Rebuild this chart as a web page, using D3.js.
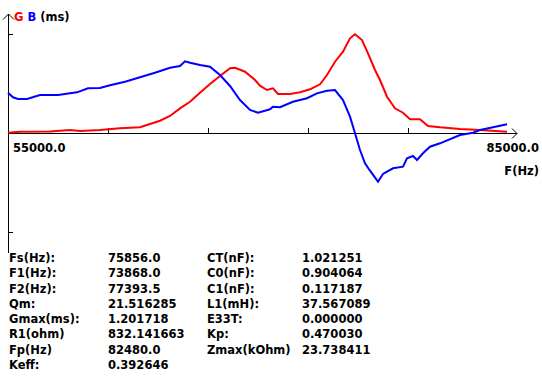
<!DOCTYPE html>
<html>
<head>
<meta charset="utf-8">
<script src="https://cdn.jsdelivr.net/npm/d3@7"></script>
<style>
  body { margin: 0; background: #fff; }
  svg { display: block; }
  text { font-family: "DejaVu Sans", sans-serif; font-weight: bold; font-size: 11.5px; }
</style>
</head>
<body>
<svg id="chart"></svg>
<script>
(function() {

// G (conductance) curve, ms
const gFreq = [55000, 55720, 57520, 58720, 59320, 60520, 61720, 62920, 63520, 64120,
    64720, 65320, 65920, 66520, 67120, 67720, 68320, 68620, 69220, 69820,
    70120, 70540, 70900, 71200, 71920, 72520, 73120, 73720, 74140, 74620,
    75100, 75520, 75820, 76240, 76600, 77020, 77320, 77740, 78220, 78700,
    79120, 79720, 80200, 80920, 82120, 83320, 84940];
const gVals = [0.004, 0.016, 0.018, 0.036, 0.024, 0.036, 0.057, 0.069, 0.109, 0.149,
    0.206, 0.299, 0.379, 0.488, 0.594, 0.691, 0.784, 0.791, 0.743, 0.642,
    0.573, 0.521, 0.542, 0.473, 0.473, 0.493, 0.530, 0.590, 0.703, 0.864,
    0.985, 1.148, 1.196, 1.127, 0.966, 0.764, 0.642, 0.440, 0.299, 0.246,
    0.166, 0.166, 0.085, 0.069, 0.048, 0.036, 0.016];

// B (susceptance) curve, ms
const bFreq = [55000, 55300, 55600, 56140, 56920, 58000, 59140, 59800, 60520, 61120,
    62020, 62920, 63820, 64720, 65320, 65620, 65920, 66520, 67120, 67720,
    68320, 68920, 69520, 70000, 70720, 70900, 71320, 72100, 72940, 73540,
    74140, 74620, 75100, 75520, 75820, 76120, 76420, 76720, 77200, 77500,
    78100, 78700, 78940, 79300, 79540, 79900, 80320, 80920, 82120, 82900,
    83320, 84100, 84940];
const bVals = [0.488, 0.433, 0.412, 0.412, 0.461, 0.461, 0.493, 0.542, 0.545, 0.578,
    0.622, 0.675, 0.731, 0.791, 0.812, 0.869, 0.852, 0.824, 0.804, 0.703,
    0.570, 0.400, 0.279, 0.246, 0.287, 0.319, 0.312, 0.379, 0.421, 0.481,
    0.513, 0.521, 0.400, 0.198, -0.004, -0.206, -0.367, -0.457, -0.590, -0.497,
    -0.428, -0.408, -0.307, -0.279, -0.327, -0.246, -0.166, -0.125, -0.024, 0.004,
    0.036, 0.069, 0.105];

const freqDomain = [55000, 85000];
const xTicks = [61000, 67000, 73000, 79000];
const yTicks = [-1.2, 1.2];
const xLabels = ["55000.0", "85000.0"];

// parameter table
const paramNames1 = ["Fs(Hz):", "F1(Hz):", "F2(Hz):", "Qm:", "Gmax(ms):", "R1(ohm)", "Fp(Hz)", "Keff:"];
const paramVals1 = ["75856.0", "73868.0", "77393.5", "21.516285", "1.201718", "832.141663", "82480.0", "0.392646"];
const paramNames2 = ["CT(nF):", "C0(nF):", "C1(nF):", "L1(mH):", "E33T:", "Kp:", "Zmax(kOhm)"];
const paramVals2 = ["1.021251", "0.904064", "0.117187", "37.567089", "0.000000", "0.470030", "23.738411"];

const W = 542, H = 377;
const svg = d3.select("#chart").attr("width", W).attr("height", H);

const x = d3.scaleLinear().domain(freqDomain).range([8, 508]);
const y = d3.scaleLinear().domain([-1.2, 1.2]).range([232, 34]);

const axisX = 8.5;
const y0 = Math.round(y(0)) + 0.5;

const axes = svg.append("g")
    .attr("stroke", "#000")
    .attr("fill", "none")
    .attr("shape-rendering", "crispEdges");

// vertical axis with arrow
axes.append("line")
    .attr("x1", axisX).attr("x2", axisX)
    .attr("y1", 14).attr("y2", 253);
svg.append("path")
    .attr("d", `M3,19.5L${axisX},14L14,19.5`)
    .attr("stroke", "#000").attr("fill", "none");

// horizontal axis with arrow
axes.append("line")
    .attr("x1", axisX).attr("x2", 517)
    .attr("y1", y0).attr("y2", y0);
svg.append("path")
    .attr("d", `M512,${y0 - 5}L517,${y0}L512,${y0 + 5}`)
    .attr("stroke", "#000").attr("fill", "none");

// x ticks (pointing up)
const gx = svg.append("g")
    .attr("transform", `translate(0,${y0})`)
    .attr("shape-rendering", "crispEdges")
    .call(d3.axisTop(x).tickValues(xTicks).tickSize(6).tickFormat(""));
gx.select(".domain").remove();

// y ticks (pointing right)
const gy = svg.append("g")
    .attr("transform", `translate(${axisX},0)`)
    .attr("shape-rendering", "crispEdges")
    .call(d3.axisRight(y).tickValues(yTicks).tickSize(4).tickFormat(""));
gy.select(".domain").remove();

// curves
const line = d3.line().x(d => x(d[0])).y(d => y(d[1]));

svg.append("path")
    .datum(gFreq.map((f, i) => [f, gVals[i]]))
    .attr("d", line)
    .attr("fill", "none")
    .attr("stroke", "#ff0000")
    .attr("stroke-width", 2);

svg.append("path")
    .datum(bFreq.map((f, i) => [f, bVals[i]]))
    .attr("d", line)
    .attr("fill", "none")
    .attr("stroke", "#0000ff")
    .attr("stroke-width", 2);

// header
const head = svg.append("text").attr("x", 14).attr("y", 21);
head.append("tspan").attr("fill", "#ff0000").text("G");
head.append("tspan").attr("fill", "#0000ff").text(" B");
head.append("tspan").attr("fill", "#000").text(" (ms)");

// axis labels
svg.append("text").attr("x", 13).attr("y", 152).text(xLabels[0]);
svg.append("text").attr("x", 539).attr("y", 152).attr("text-anchor", "end").text(xLabels[1]);
svg.append("text").attr("x", 539).attr("y", 175).attr("text-anchor", "end").text("F(Hz)");

// parameter table
const rowY = i => 262 + i * 15.25;
const table = svg.append("g").attr("fill", "#000");
paramNames1.forEach((t, i) => table.append("text").attr("x", 9).attr("y", rowY(i)).text(t));
paramVals1.forEach((t, i) => table.append("text").attr("x", 108).attr("y", rowY(i)).text(t));
paramNames2.forEach((t, i) => table.append("text").attr("x", 207).attr("y", rowY(i)).text(t));
paramVals2.forEach((t, i) => table.append("text").attr("x", 302).attr("y", rowY(i)).text(t));

})();
</script>
</body>
</html>
